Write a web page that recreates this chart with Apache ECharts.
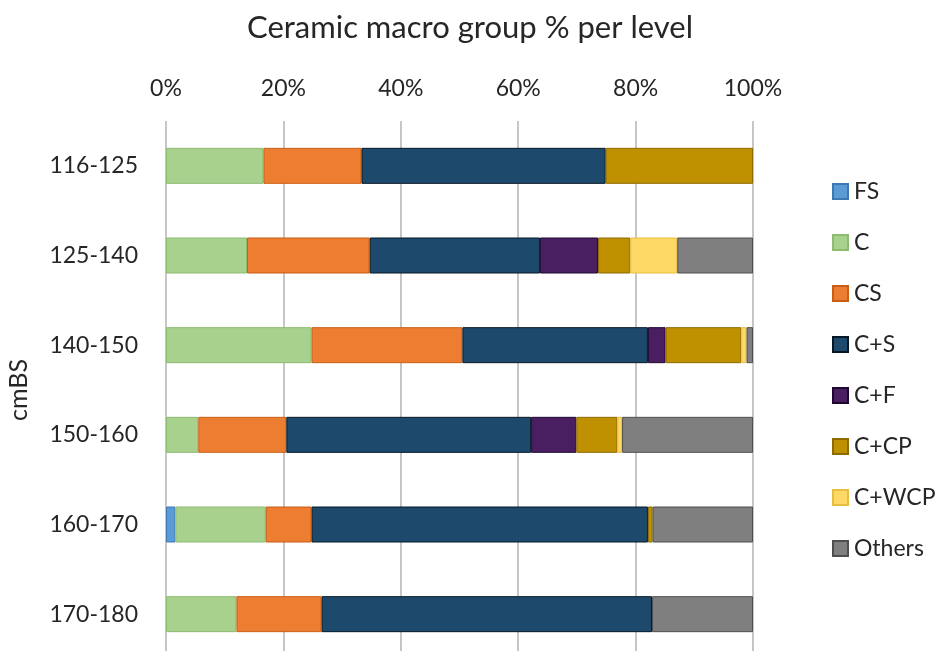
<!DOCTYPE html>
<html>
<head>
<meta charset="utf-8">
<script src="https://cdn.jsdelivr.net/npm/echarts@6/dist/echarts.min.js"></script>
<style>
  html, body { margin: 0; padding: 0; background: #ffffff; }
  #chart { width: 938px; height: 651px; }
</style>
</head>
<body>
<div id="chart"></div>
<script>
// Depth levels (cm below surface)
const levels = ['116-125', '125-140', '140-150', '150-160', '160-170', '170-180'];

// Share of each ceramic macro group per level (%)
const FS     = [0, 0, 0, 0, 1.6, 0];
const C      = [16.6, 13.8, 24.8, 5.5, 15.4, 12.0];
const CS     = [16.7, 20.9, 25.7, 15.0, 7.8, 14.5];
const CplusS = [41.6, 29.0, 31.6, 41.7, 57.3, 56.3];
const CplusF = [0, 9.9, 3.0, 7.7, 0, 0];
const CplusCP  = [25.1, 5.5, 12.9, 7.0, 0.8, 0];
const CplusWCP = [0, 8.0, 0.9, 0.8, 0, 0];
const Others = [0, 12.9, 1.1, 22.3, 17.1, 17.2];

const groupNames = ['FS', 'C', 'CS', 'C+S', 'C+F', 'C+CP', 'C+WCP', 'Others'];
const groupValues = [FS, C, CS, CplusS, CplusF, CplusCP, CplusWCP, Others];

const xTicks = [0, 20, 40, 60, 80, 100];

const fills   = ['#5B9BD5', '#A9D18E', '#ED7D31', '#1D4A6C', '#4A1F62', '#BF9000', '#FFD966', '#7F7F7F'];
const borders = ['#3F78B0', '#8DBB70', '#C95F17', '#061826', '#1E0830', '#8F6A00', '#E8BE40', '#4F4F4F'];

const FONT = 'Lato, "Open Sans", sans-serif';
const TEXT = '#262626';

const chart = echarts.init(document.getElementById('chart'), null, { renderer: 'canvas' });

const series = groupNames.map((name, i) => ({
  name: name,
  type: 'bar',
  stack: 'total',
  barWidth: 36,
  data: groupValues[i].map(v => (v === 0 ? null : v)),
  itemStyle: { color: fills[i], borderColor: borders[i], borderWidth: 1 },
  emphasis: { disabled: true }
}));

chart.setOption({
  animation: false,
  backgroundColor: '#ffffff',
  title: {
    text: 'Ceramic macro group % per level',
    left: 465,
    textAlign: 'center',
    top: 7,
    textStyle: { fontFamily: FONT, fontSize: 31, fontWeight: 'normal', color: TEXT }
  },
  legend: {
    orient: 'vertical',
    left: 827,
    top: 175,
    itemWidth: 15,
    itemHeight: 15,
    itemGap: 28,
    icon: 'rect',
    data: groupNames,
    textStyle: { fontFamily: FONT, fontSize: 23, color: TEXT, padding: [0, 0, 0, 1] }
  },
  grid: { left: 166, top: 121, width: 587, height: 538, outerBoundsMode: 'none', containLabel: false },
  xAxis: {
    type: 'value',
    position: 'top',
    min: 0,
    max: 100,
    interval: 20,
    axisLine: { show: false },
    axisTick: { show: false },
    axisLabel: {
      margin: 21,
      fontFamily: FONT,
      fontSize: 23,
      color: TEXT,
      formatter: v => (xTicks.indexOf(v) >= 0 ? v + '%' : '')
    },
    splitLine: { show: true, lineStyle: { color: '#C6C6C6', width: 2 } }
  },
  yAxis: {
    type: 'category',
    inverse: true,
    data: levels,
    name: 'cmBS',
    nameLocation: 'middle',
    nameRotate: 90,
    nameGap: 135,
    nameTextStyle: { fontFamily: FONT, fontSize: 25, color: TEXT },
    axisLine: { show: false },
    axisTick: { show: false },
    axisLabel: { margin: 28, fontFamily: FONT, fontSize: 23, color: TEXT },
    splitLine: { show: false }
  },
  series: series
});
</script>
</body>
</html>
